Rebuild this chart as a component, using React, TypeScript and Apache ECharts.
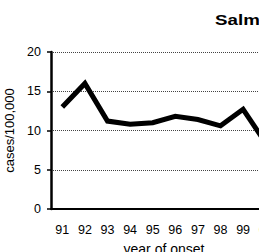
import React, { useEffect, useRef } from "react";
import * as echarts from "echarts";

const years = ["91", "92", "93", "94", "95", "96", "97", "98", "99", "00"];
const rates = [13.0, 16.0, 11.2, 10.8, 11.0, 11.8, 11.4, 10.6, 12.7, 8.4];
const yTicks = { min: 0, max: 20, interval: 5 };
const titleText = "Salmonella";
const xName = "year of onset";
const yName = "cases/100,000";

const FONT = "'Liberation Sans', Arial, Helvetica, sans-serif";

export default function App() {
  const ref = useRef<HTMLDivElement>(null);
  useEffect(() => {
    if (!ref.current) return;
    const chart = echarts.init(ref.current, null, { renderer: "svg" });
    chart.setOption({
      animation: false,
      backgroundColor: "#ffffff",
      textStyle: { fontFamily: FONT },
      graphic: [
        {
          type: "text",
          x: 215,
          y: 13,
          scaleX: 1.25,
          style: {
            text: titleText,
            font: `bold 15px ${FONT}`,
            fill: "#000",
            verticalAlign: "top",
            align: "left",
          },
        },
      ],
      grid: {
        left: 51,
        top: 52,
        width: 226,
        height: 157,
        containLabel: false,
        outerBoundsMode: "none",
      },
      xAxis: {
        type: "category",
        data: years,
        boundaryGap: true,
        name: xName,
        nameLocation: "middle",
        nameGap: 33,
        nameTextStyle: { fontFamily: FONT, fontSize: 14, color: "#000" },
        axisLine: { lineStyle: { color: "#000", width: 2 } },
        axisTick: { alignWithLabel: true, length: 4, lineStyle: { color: "#000", width: 1.5 } },
        axisLabel: { margin: 14, fontFamily: FONT, fontSize: 12.5, color: "#000" },
        splitLine: { show: false },
      },
      yAxis: {
        type: "value",
        min: yTicks.min,
        max: yTicks.max,
        interval: yTicks.interval,
        name: yName,
        nameLocation: "middle",
        nameGap: 29,
        nameTextStyle: { fontFamily: FONT, fontSize: 13, color: "#000" },
        axisLine: { show: true, onZero: false, lineStyle: { color: "#000", width: 2.5 } },
        axisTick: { show: true, length: 4, lineStyle: { color: "#000", width: 1.5 } },
        axisLabel: { margin: 10, fontFamily: FONT, fontSize: 12.5, color: "#000" },
        splitLine: {
          show: true,
          lineStyle: { color: "#444", type: "dotted", width: 1 },
        },
      },
      series: [
        {
          type: "line",
          data: rates,
          showSymbol: false,
          symbol: "none",
          lineStyle: { color: "#000", width: 5, join: "miter" },
          itemStyle: { color: "#000" },
          z: 5,
        },
      ],
    });
    return () => chart.dispose();
  }, []);
  return (
    <div
      style={{
        position: "absolute",
        left: 0,
        top: 0,
        width: 259,
        height: 252,
        overflow: "hidden",
        background: "#fff",
      }}
    >
      <div ref={ref} style={{ width: 320, height: 252 }} />
    </div>
  );
}
